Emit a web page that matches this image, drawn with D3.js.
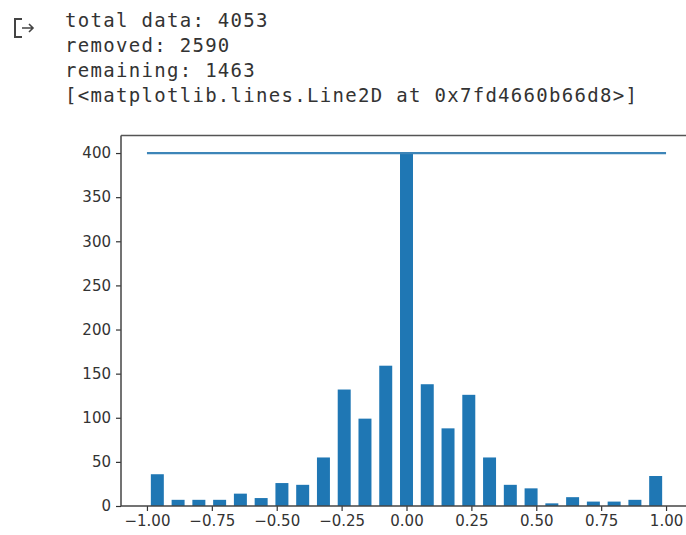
<!DOCTYPE html>
<html>
<head>
<meta charset="utf-8">
<script src="https://cdn.jsdelivr.net/npm/d3@7"></script>
<style>
  body { margin: 0; background: #fff; }
  svg { display: block; }
</style>
</head>
<body>
<div id="chart"></div>
<script>
// printed output above the plot
var outLines = ["total data: 4053", "removed: 2590", "remaining: 1463",
  "[<matplotlib.lines.Line2D at 0x7fd4660b66d8>]"];

// histogram: bin centers and counts
var centers = [-0.96, -0.88, -0.80, -0.72, -0.64, -0.56, -0.48, -0.40, -0.32, -0.24, -0.16, -0.08,
  0.00, 0.08, 0.16, 0.24, 0.32, 0.40, 0.48, 0.56, 0.64, 0.72, 0.80, 0.88, 0.96];
var counts = [36, 7, 7, 7, 14, 9, 26, 24, 55, 132, 99, 159,
  400, 138, 88, 126, 55, 24, 20, 3, 10, 5, 5, 7, 34];
var barWidth = 0.05;

// samples_per_bin line
var lineX = [-1, 1];
var lineY = [400, 400];

var xTicks = [-1.00, -0.75, -0.50, -0.25, 0.00, 0.25, 0.50, 0.75, 1.00];
var yTicks = [0, 50, 100, 150, 200, 250, 300, 350, 400];

var W = 686, H = 535;
var svg = d3.select("#chart").append("svg")
  .attr("width", W).attr("height", H);

// colab output icon
svg.append("path")
  .attr("d", "M22,19 H15 V37 H22")
  .attr("fill", "none").attr("stroke", "#444").attr("stroke-width", 2);
svg.append("path")
  .attr("d", "M22,28 H33 M29,24 L33,28 L29,32")
  .attr("fill", "none").attr("stroke", "#444").attr("stroke-width", 1.6);

svg.selectAll(".out")
  .data(outLines)
  .enter().append("text")
  .attr("class", "out")
  .attr("x", 65)
  .attr("y", function(d, i) { return 27 + i * 25; })
  .style("font-family", "'DejaVu Sans Mono', monospace")
  .style("font-size", "19px")
  .style("letter-spacing", "1.3px")
  .style("fill", "#333")
  .text(function(d) { return d; });

var x = d3.scaleLinear().domain([-1.1, 1.1]).range([121, 692]);
var y = d3.scaleLinear().domain([0, 420]).range([506, 135.4]);

var data = centers.map(function(c, i) { return {c: c, n: counts[i]}; });

svg.selectAll(".bar")
  .data(data)
  .enter().append("rect")
  .attr("class", "bar")
  .attr("x", function(d) { return x(d.c - barWidth / 2); })
  .attr("width", function(d) { return x(d.c + barWidth / 2) - x(d.c - barWidth / 2); })
  .attr("y", function(d) { return y(d.n); })
  .attr("height", function(d) { return y(0) - y(d.n); })
  .attr("fill", "#1f77b4");

var line = d3.line()
  .x(function(d) { return x(d[0]); })
  .y(function(d) { return y(d[1]); });

svg.append("path")
  .datum(lineX.map(function(v, i) { return [v, lineY[i]]; }))
  .attr("d", line)
  .attr("fill", "none")
  .attr("stroke", "#3d85b8")
  .attr("stroke-width", 2.2);

// axes
var xAxis = d3.axisBottom(x).tickValues(xTicks).tickSize(5).tickPadding(4)
  .tickFormat(function(d) { return d3.format(".2f")(d).replace("-", "\u2212"); });
var yAxis = d3.axisLeft(y).tickValues(yTicks).tickSize(5).tickPadding(5);

var gx = svg.append("g")
  .attr("transform", "translate(0," + y(0) + ")")
  .call(xAxis);
var gy = svg.append("g")
  .attr("transform", "translate(" + x(-1.1) + ",0)")
  .call(yAxis);

[gx, gy].forEach(function(g) {
  g.select(".domain").remove();
  g.selectAll("line").attr("stroke", "#333").attr("stroke-width", 1.2);
  g.selectAll("text")
    .style("font-family", "'DejaVu Sans', sans-serif")
    .style("font-size", "15px")
    .style("fill", "#333");
});

// spines
svg.append("line")
  .attr("x1", x(-1.1)).attr("x2", x(-1.1))
  .attr("y1", y(420)).attr("y2", y(0))
  .attr("stroke", "#444").attr("stroke-width", 1.5);
svg.append("line")
  .attr("x1", x(-1.1)).attr("x2", W)
  .attr("y1", y(0)).attr("y2", y(0))
  .attr("stroke", "#444").attr("stroke-width", 1.5);
svg.append("line")
  .attr("x1", x(-1.1)).attr("x2", W)
  .attr("y1", y(420)).attr("y2", y(420))
  .attr("stroke", "#555").attr("stroke-width", 1.5);
</script>
</body>
</html>
